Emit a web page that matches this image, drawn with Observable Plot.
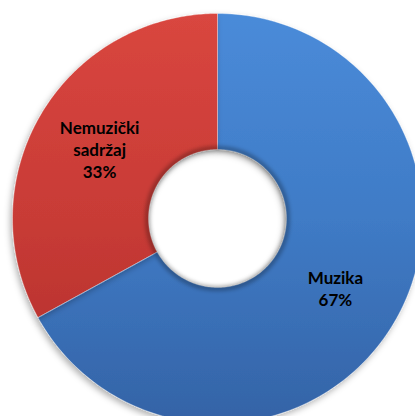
<!DOCTYPE html>
<html><head><meta charset="utf-8">
<script src="https://cdn.jsdelivr.net/npm/d3@7"></script>
<script src="https://cdn.jsdelivr.net/npm/@observablehq/plot@0.6"></script>
<style>html,body{margin:0;padding:0;background:#fff;overflow:hidden}</style>
</head><body><div id="chart"></div>
<script>
// ---- data ----
const categories = ["Muzika", "Nemuzički sadržaj"];
const labels = ["Muzika", "Nemuzički\nsadržaj"];
const values = [67, 33];
const percentLabels = ["67%", "33%"];

// ---- layout ----
const W = 415, H = 416, cx = 217, cy = 218, R = 205, RI = 69;
const inner = RI / R;
const fills = ["url(#gBlue)", "url(#gRed)"];

const data = categories.map((c, i) => ({category: c, label: labels[i] + "\n" + percentLabels[i], value: values[i], fill: fills[i]}));
const arcs = d3.pie().sort(null).value(d => d.value)(data);

// ring polygons in data units (outer radius = 1)
const ring = [];
arcs.forEach(a => {
  const n = 180;
  for (let k = 0; k <= n; k++) {
    const t = a.startAngle + (a.endAngle - a.startAngle) * k / n;
    ring.push({category: a.data.category, x: Math.sin(t), y: Math.cos(t)});
  }
  for (let k = n; k >= 0; k--) {
    const t = a.startAngle + (a.endAngle - a.startAngle) * k / n;
    ring.push({category: a.data.category, x: inner * Math.sin(t), y: inner * Math.cos(t)});
  }
});
const mid = (1 + inner) / 2;
const labelPos = arcs.map(a => {
  const t = (a.startAngle + a.endAngle) / 2;
  return {label: a.data.label, x: mid * Math.sin(t), y: mid * Math.cos(t)};
});

const defs = () => {
  const d = d3.create("svg:defs");
  const grad = (id, stops) => {
    const g = d.append("linearGradient").attr("id", id).attr("gradientUnits", "userSpaceOnUse")
      .attr("x1", 0).attr("y1", cy - R).attr("x2", 0).attr("y2", cy + R);
    stops.forEach(([o, c]) => g.append("stop").attr("offset", o).attr("stop-color", c));
  };
  grad("gBlue", [[0, "#4a8bd9"], [0.5, "#3f7bc6"], [1, "#3463a6"]]);
  grad("gRed", [[0, "#d9463f"], [0.5, "#c83b36"], [1, "#b02e2a"]]);
  const f = d.append("filter").attr("id", "shadow").attr("x", "-10%").attr("y", "-10%").attr("width", "120%").attr("height", "120%");
  f.append("feDropShadow").attr("dx", -2).attr("dy", 3).attr("stdDeviation", 3).attr("flood-color", "#000").attr("flood-opacity", 0.3);
  const b = d.append("filter").attr("id", "blur").attr("x", "-20%").attr("y", "-20%").attr("width", "140%").attr("height", "140%");
  b.append("feGaussianBlur").attr("stdDeviation", 2);
  return d.node();
};

const plot = Plot.plot({
  width: W, height: H, margin: 0,
  x: {domain: [-cx / R, (W - cx) / R], axis: null},
  y: {domain: [-(H - cy) / R, cy / R], axis: null},
  marks: [
    defs,
    Plot.line(ring.filter(d => d.category === categories[0]), {x: "x", y: "y", fill: fills[0], stroke: "rgba(255,255,255,0.35)", strokeWidth: 1, curve: "linear-closed"}),
    Plot.line(ring.filter(d => d.category === categories[1]), {x: "x", y: "y", fill: fills[1], stroke: "rgba(255,255,255,0.35)", strokeWidth: 1, curve: "linear-closed"}),
    Plot.dot([{x: 0, y: 0}], {x: "x", y: "y", r: RI + 1, fill: "none", stroke: "#000", strokeOpacity: 0.35, strokeWidth: 4}),
    Plot.text(labelPos, {x: "x", y: "y", text: "label", fontSize: 17, fontWeight: "bold", fill: "#000", lineHeight: 1.3, fontFamily: "Lato"})
  ]
});
d3.select(plot).selectAll('g[aria-label="line"]').attr("filter", "url(#shadow)");
d3.select(plot).selectAll('g[aria-label="dot"]').attr("filter", "url(#blur)");
document.getElementById("chart").appendChild(plot);
</script></body></html>
